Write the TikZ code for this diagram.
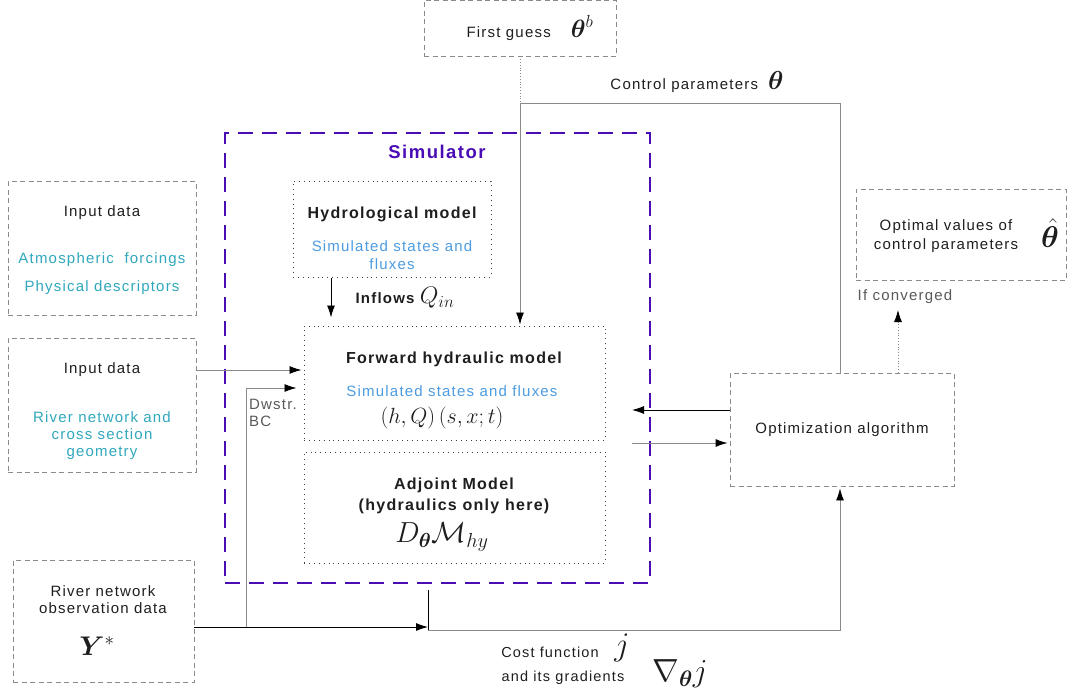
\documentclass[tikz,border=0pt]{standalone}
\usepackage{fix-cm}
\usepackage{amsmath,bm}
\usepackage[no-math]{fontspec}
\setmainfont{Liberation Sans}[LetterSpace=8]
\usetikzlibrary{arrows.meta}
\definecolor{tealc}{HTML}{30A8BC}
\definecolor{lblue}{HTML}{4C9BE0}
\definecolor{purp}{HTML}{4A0CB4}
\definecolor{lgray}{HTML}{8A8A8A}
\definecolor{txtc}{HTML}{1E1E1E}
\newcommand{\mth}[2]{{\fontsize{#1}{#1}\selectfont$#2$}}
\begin{document}
\begin{tikzpicture}[x=1pt,y=-1pt,
  dbox/.style={draw=lgray, dash pattern=on 5pt off 3.5pt, line width=0.9pt, inner sep=0pt},
  obox/.style={draw=black!75, dash pattern=on 0.9pt off 4pt, line width=1pt, inner sep=0pt},
  simbox/.style={draw=purp, dash pattern=on 15pt off 9pt, line width=2.2pt, inner sep=0pt},
  t/.style={font=\fontsize{15}{17}\selectfont, text=txtc, align=center, inner sep=0pt},
  tb/.style={t, font=\fontsize{16}{21}\selectfont\bfseries},
  tk/.style={-{Latex[length=12pt,width=8pt,black]}},
  gl/.style={draw=lgray, line width=0.9pt},
  bl/.style={draw=black, line width=0.9pt}
]
\useasboundingbox (0,0) rectangle (1068,699);

% boxes
\node[dbox, minimum width=192, minimum height=56] (fg) at (520,28) {};
\node[simbox, minimum width=425, minimum height=450] (sim) at (437.5,358) {};
\node[dbox, minimum width=188, minimum height=134] (in1) at (102,248) {};
\node[dbox, minimum width=188, minimum height=134] (in2) at (102,405) {};
\node[obox, minimum width=198, minimum height=96] (hyd) at (392,229) {};
\node[obox, minimum width=301, minimum height=114] (fwd) at (454.5,383) {};
\node[obox, minimum width=301, minimum height=111] (adj) at (454.5,507.5) {};
\node[dbox, minimum width=224, minimum height=113] (opt) at (842,429.5) {};
\node[dbox, minimum width=181, minimum height=122] (obs) at (103.5,621) {};
\node[dbox, minimum width=210, minimum height=91] (optv) at (961,234.5) {};

% texts
\node[t] (fgt) at (530,28) {First guess\hspace{20pt}\mth{25}{\bm{\theta}^b}};
\node[t] (cpt) at (697,82) {Control parameters\hspace{10pt}\mth{26}{\bm{\theta}}};
\node[t, font=\fontsize{18.5}{20}\selectfont\bfseries, text=purp] (simt) at (437,152) {Simulator};

\node[t] (in1a) at (102,213) {Input data};
\node[t, text=tealc] (in1b) at (102,260) {Atmospheric\ \ forcings};
\node[t, text=tealc] (in1c) at (102,288) {Physical descriptors};

\node[t] (in2a) at (102,370) {Input data};
\node[t, text=tealc] (in2b) at (102,436) {River network and\\cross section\\geometry};

\node[tb] (hydt) at (392,214) {Hydrological model};
\node[t, text=lblue, font=\fontsize{15}{18}\selectfont] (hyds) at (392,255) {Simulated states and\\fluxes};
\node[t, font=\fontsize{15}{17}\selectfont\bfseries] (inf) at (405,298) {Inflows\ \mth{24}{Q_{in}}};

\node[tb] (fwdt) at (454,359) {Forward hydraulic model};
\node[t, text=lblue] (fwds) at (452,391) {Simulated states and fluxes};
\node[t] (fwdm) at (442,418) {\mth{22}{(h,Q)\,(s,x;t)}};

\node[tb] (adjt) at (454,495.5) {Adjoint Model\\(hydraulics only here)};
\node[t] (adjm) at (442,537) {\mth{29}{D_{\bm{\theta}}\mathcal{M}_{hy}}};

\node[t, align=left, anchor=north west, text=black!65] (bc) at (249,399) {Dwstr.\\BC};

\node[t] (optt) at (842,430) {Optimization algorithm};
\node[t, font=\fontsize{15}{19}\selectfont] (optvt) at (946,236) {Optimal values of\\control parameters};
\node[t] (thh) at (1050,233) {\mth{30}{\hat{\bm{\theta}}}};
\node[t, text=black!65] (conv) at (905,297) {If converged};

\node[t] (obst) at (103,600) {River network\\observation data};
\node[t] (obsm) at (97,646) {\mth{27}{\bm{Y}^{*}}};

\node[t, font=\fontsize{14.5}{17}\selectfont] (cft) at (550,652) {Cost function};
\node[t] (cfj) at (622,648) {\mth{33}{j}};
\node[t, font=\fontsize{14.5}{17}\selectfont] (grt) at (563,678) {and its gradients};
\node[t] (grm) at (680,674) {\mth{32}{\nabla_{\bm{\theta}} j}};

% coordinates
\coordinate (c1) at (840,103);
\coordinate (c2) at (520,103);
\coordinate (a1) at (632,410);
\coordinate (a2) at (632,443);
\coordinate (b1) at (246,627);
\coordinate (b2) at (246,388);
\coordinate (d1) at (428,590);
\coordinate (d2) at (428,630);
\coordinate (d3) at (840,630);

% connectors
\draw[draw=lgray, line width=0.8pt, dotted] (fg.south) -- (c2);
\draw[gl, tk, shorten >=1pt] ([xshift=-2pt]opt.north) -- (c1) -- (c2) -- (c2 |- fwd.north);
\draw[bl, tk, shorten >=8pt] (hyd.south -| 331,0) -- (fwd.north -| 331,0);
\draw[gl, tk, shorten >=2pt] ([yshift=35pt]in2.east) -- ([yshift=13pt]fwd.west);
\draw[gl, tk, shorten >=7pt] (b1) -- (b2) -- (fwd.west |- b2);
\draw[bl, tk] ([yshift=19.5pt]opt.west) -- (a1);
\draw[gl, tk, shorten >=2pt] (a2) -- (opt.west |- a2);
\draw[bl, tk] ([yshift=-6pt]obs.east) -- (d2 |- b1);
\draw[bl] (d1) -- (d2);
\draw[gl, tk, shorten >=2pt] (d2) -- (d3) -- (opt.south -| d3);
\draw[draw=lgray, line width=0.8pt, dotted, -{Latex[length=12pt,width=8pt,black]}] (opt.north -| 898,0) -- (898,310);
\end{tikzpicture}
\end{document}
